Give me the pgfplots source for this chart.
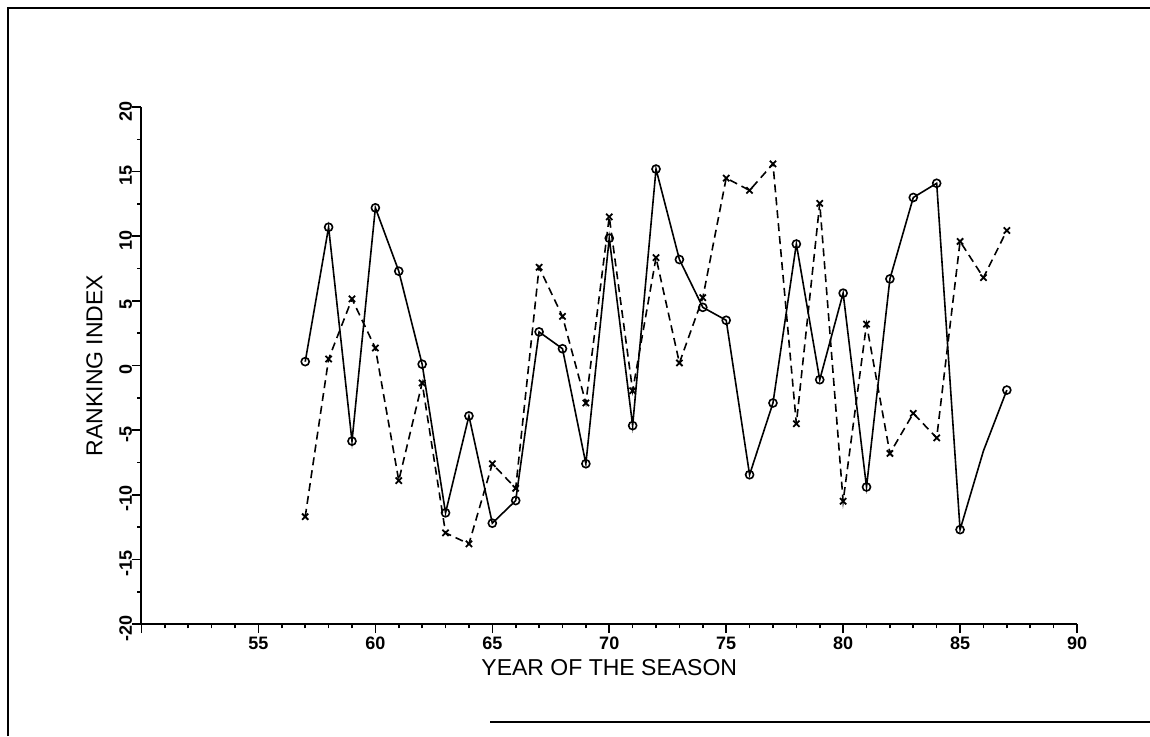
\documentclass[border=0pt]{standalone}
\usepackage{pgfplots}
\pgfplotsset{compat=1.18}
\usepackage{fontspec}
\setmainfont{Liberation Sans}
\begin{document}
\begin{tikzpicture}
\path[use as bounding box] (-70.75pt,-56pt) rectangle (504.25pt,312pt);
\draw[line width=1pt] (-66.75pt,-56pt) -- (-66.75pt,308pt) -- (504.25pt,308pt);
\draw[line width=1pt] (174.25pt,-49pt) -- (504.25pt,-49pt);
\begin{axis}[
  at={(0pt,0pt)}, anchor=south west,
  scale only axis, width=467.75pt, height=258.5pt,
  xmin=50, xmax=90, ymin=-20, ymax=20,
  axis lines=left, axis line style={line width=1pt, -},
  xtick={50,55,...,90},
  xticklabels={,55,60,65,70,75,80,85,90},
  ytick={-20,-15,...,20},
  /pgf/number format/assume math mode=true,
  minor x tick num=4, minor y tick num=1,
  tick align=outside,
  major tick length=4.5pt, minor tick length=2.2pt,
  tick style={line width=0.8pt, black},
  every tick label/.append style={font=\fontsize{9}{10}\selectfont\bfseries},
  xticklabel style={anchor=north, inner sep=0pt, yshift=-2pt},
  yticklabel style={rotate=90, anchor=south, inner sep=0pt, xshift=-2pt},
  xlabel={YEAR OF THE SEASON},
  ylabel={RANKING INDEX},
  every axis x label/.style={at={(axis description cs:0.5,-0.0677)}, anchor=north, inner sep=0pt, font=\fontsize{11.5}{12}\selectfont},
  every axis y label/.style={at={(axis description cs:-0.0412,0.5)}, rotate=90, anchor=south, inner sep=0pt, font=\fontsize{11.5}{12}\selectfont},
  clip=false,
]
% series 1: solid with circles (line)
\addplot[black, line width=0.8pt, mark=none] coordinates {
(57,0.3) (58,10.7) (59,-5.85) (60,12.2) (61,7.3) (62,0.1) (63,-11.4) (64,-3.9)
(65,-12.2) (66,-10.45) (67,2.6) (68,1.3) (69,-7.6) (70,9.85) (71,-4.65) (72,15.2)
(73,8.2) (74,4.5) (75,3.5) (76,-8.45) (77,-2.9) (78,9.4) (79,-1.1) (80,5.6)
(81,-9.4) (82,6.7) (83,13.0) (84,14.1) (85,-12.7) (86,-6.6) (87,-1.9)
};
\addplot[black, line width=0.8pt, only marks, mark=o, mark size=2pt] coordinates {
(57,0.3) (58,10.7) (59,-5.85) (60,12.2) (61,7.3) (62,0.1) (63,-11.4) (64,-3.9)
(65,-12.2) (66,-10.45) (67,2.6) (68,1.3) (69,-7.6) (70,9.85) (71,-4.65) (72,15.2)
(73,8.2) (74,4.5) (75,3.5) (76,-8.45) (77,-2.9) (78,9.4) (79,-1.1) (80,5.6)
(81,-9.4) (82,6.7) (83,13.0) (84,14.1) (85,-12.7) (87,-1.9)
};
% series 2: dashed with crosses
\addplot[black, line width=0.8pt, dash pattern=on 4pt off 2.5pt, mark=x, mark size=2.2pt, mark options={solid, line width=0.9pt}] coordinates {
(57,-11.7) (58,0.5) (59,5.15) (60,1.35) (61,-8.9) (62,-1.35) (63,-12.95) (64,-13.8)
(65,-7.6) (66,-9.5) (67,7.6) (68,3.8) (69,-2.9) (70,11.5) (71,-1.95) (72,8.35)
(73,0.2) (74,5.25) (75,14.5) (76,13.55) (77,15.6) (78,-4.5) (79,12.55) (80,-10.5)
(81,3.2) (82,-6.8) (83,-3.7) (84,-5.6) (85,9.6) (86,6.8) (87,10.45)
};
\end{axis}
\end{tikzpicture}
\end{document}
